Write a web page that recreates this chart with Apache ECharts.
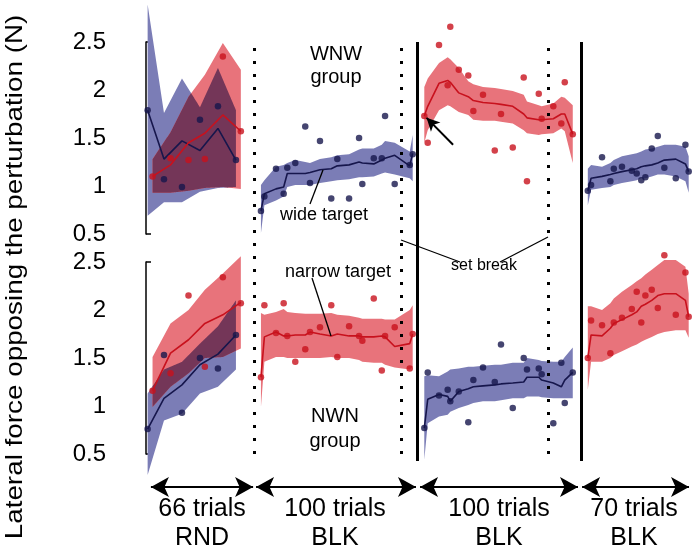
<!DOCTYPE html>
<html><head><meta charset="utf-8">
<script src="https://cdn.jsdelivr.net/npm/echarts@6/dist/echarts.min.js"></script>
<style>html,body{margin:0;padding:0;background:#fff}#c{width:696px;height:553px}</style>
</head><body><div id="c"></div>
<script>
// ---------- x positions (trial number) ----------
const xRndWide   = [1, 11, 22, 33, 44, 55];
const xRndNarrow = [4, 15, 26, 36, 47, 58];
const xBlk1 = [70.3, 72.4, 79.5, 84.2, 86.4, 91.3, 97.4, 100.3, 106.4, 113.3, 117.0, 124.2, 130.3, 132.3, 139.3, 144.2, 146.2, 152.1, 161.3, 163.1];
const xBlk2 = [170.2, 172.3, 179.2, 184.5, 186.1, 191.3, 197.1, 200.2, 206.1, 213.3, 217.1, 224.3, 231.0, 233.0, 240.2, 242.0, 249.1, 254.0, 256.1, 261.0];
const xBlk3 = [270.2, 272.2, 278.9, 284.0, 286.1, 291.1, 297.1, 300.1, 302.9, 305.4, 309.3, 313.0, 317.0, 324.0, 329.9, 331.9];

// segment boundaries (trials) and set breaks
const solidBounds = [166, 266];
const dottedLines = [66, 156, 246];
const segArrows = [[3, 65.5], [67.3, 165.1], [167.6, 264.2], [266.7, 332.1]];
const segLabels = ['66 trials\nRND', '100 trials\nBLK', '100 trials\nBLK', '70 trials\nBLK'];
const yTicks = [0.5, 2.5];

// ---------- TOP panel (WNW group) ----------
const topRndWideMean = [1.79, 1.28, 1.47, 1.37, 1.60, 1.27];
const topRndWideDots = [1.79, 1.07, 0.99, 1.69, 1.83, 1.27];
const topRndWideUp   = [2.89, 1.76, 2.12, 1.82, 2.23, 1.79];
const topRndWideLo   = [0.69, 0.83, 0.83, 0.94, 0.98, 0.99];
const topRndNarMean  = [1.10, 1.22, 1.45, 1.55, 1.74, 1.57];
const topRndNarDots  = [1.10, 1.29, 1.27, 1.28, 2.35, 1.57];
const topRndNarUp    = [1.28, 1.56, 1.93, 2.16, 2.49, 2.21];
const topRndNarLo    = [0.93, 0.93, 0.95, 0.98, 0.99, 0.97];

const topBlk1Dots = [0.74, 0.89, 1.18, 0.92, 1.19, 1.24, 1.62, 1.03, 1.47, 0.87, 1.28, 0.87, 1.50, 1.02, 1.29, 1.29, 1.73, 1.02, 1.22, 1.33];
const topBlk1Mean = [0.74, 0.92, 0.97, 0.99, 1.13, 1.13, 1.13, 1.14, 1.17, 1.18, 1.21, 1.22, 1.25, 1.24, 1.23, 1.27, 1.29, 1.32, 1.21, 1.34];
const topBlk1Up   = [1.01, 1.06, 1.20, 1.22, 1.24, 1.27, 1.25, 1.24, 1.28, 1.30, 1.32, 1.33, 1.38, 1.39, 1.39, 1.43, 1.47, 1.45, 1.36, 1.53];
const topBlk1Lo   = [0.51, 0.80, 0.85, 0.89, 0.99, 1.01, 1.01, 1.01, 1.03, 1.05, 1.06, 1.07, 1.09, 1.09, 1.10, 1.13, 1.14, 1.12, 1.08, 1.05];

const topBlk2Dots = [1.73, 1.45, 2.47, 2.05, 2.66, 2.21, 2.15, 1.78, 1.95, 1.37, 1.75, 1.40, 2.13, 1.05, 1.96, 1.70, 1.83, 1.65, 2.08, 1.54];
const topBlk2Mean = [1.73, 1.83, 2.07, 2.10, 2.08, 1.97, 1.93, 1.89, 1.87, 1.86, 1.85, 1.83, 1.75, 1.71, 1.69, 1.69, 1.70, 1.75, 1.75, 1.54];
const topBlk2Up   = [2.03, 2.12, 2.28, 2.34, 2.32, 2.23, 2.09, 2.06, 2.03, 2.02, 2.01, 1.99, 1.95, 1.88, 1.84, 1.83, 1.86, 1.93, 1.92, 1.84];
const topBlk2Lo   = [1.45, 1.58, 1.79, 1.84, 1.83, 1.77, 1.74, 1.69, 1.68, 1.68, 1.67, 1.65, 1.58, 1.55, 1.53, 1.54, 1.55, 1.60, 1.57, 1.24];

const topBlk3Dots = [0.95, 1.01, 1.30, 1.05, 1.18, 1.20, 1.16, 1.13, 1.06, 1.09, 1.39, 1.52, 1.19, 1.08, 1.43, 1.15];
const topBlk3Mean = [0.95, 1.08, 1.10, 1.12, 1.13, 1.15, 1.17, 1.18, 1.20, 1.21, 1.22, 1.24, 1.27, 1.28, 1.23, 1.15];
const topBlk3Up   = [1.18, 1.22, 1.20, 1.24, 1.27, 1.31, 1.33, 1.34, 1.36, 1.38, 1.39, 1.41, 1.43, 1.43, 1.41, 1.31];
const topBlk3Lo   = [0.80, 0.96, 0.98, 0.99, 1.01, 1.03, 1.05, 1.06, 1.08, 1.08, 1.10, 1.12, 1.12, 1.10, 1.05, 0.93];

// ---------- BOTTOM panel (NWN group) ----------
const botRndWideDots = [0.76, 1.53, 0.93, 1.50, 1.39, 1.74];
const botRndWideMean = [0.76, 1.08, 1.22, 1.43, 1.54, 1.74];
const botRndWideUp   = [1.13, 1.38, 1.46, 1.65, 1.83, 2.10];
const botRndWideLo   = [0.28, 0.85, 0.92, 1.13, 1.20, 1.38];
const botRndNarDots  = [1.16, 1.34, 2.15, 1.41, 2.34, 2.07];
const botRndNarMean  = [1.16, 1.55, 1.69, 1.86, 1.95, 2.08];
const botRndNarUp    = [1.51, 1.86, 2.00, 2.21, 2.38, 2.56];
const botRndNarLo    = [0.99, 1.20, 1.34, 1.50, 1.51, 1.60];

const botBlk1Dots = [1.30, 2.05, 1.76, 2.07, 1.73, 1.46, 1.59, 1.77, 1.82, 2.05, 1.51, 1.83, 1.73, 1.68, 2.12, 1.37, 1.73, 1.82, 1.39, 1.75];
const botBlk1Mean = [1.30, 1.72, 1.77, 1.73, 1.73, 1.74, 1.74, 1.77, 1.75, 1.73, 1.75, 1.73, 1.73, 1.72, 1.72, 1.73, 1.72, 1.62, 1.65, 1.75];
const botBlk1Up   = [1.97, 1.95, 1.98, 2.01, 1.98, 1.97, 1.96, 1.96, 1.96, 1.97, 1.95, 1.94, 1.92, 1.91, 1.91, 1.91, 1.90, 1.90, 2.00, 2.05];
const botBlk1Lo   = [0.99, 1.46, 1.51, 1.51, 1.50, 1.50, 1.50, 1.50, 1.50, 1.51, 1.50, 1.50, 1.48, 1.46, 1.45, 1.45, 1.43, 1.40, 1.38, 1.41];

const botBlk2Dots = [0.77, 1.35, 1.11, 1.17, 1.05, 1.15, 0.83, 1.27, 1.40, 1.25, 1.64, 0.98, 1.50, 1.38, 1.39, 1.33, 0.82, 1.45, 1.03, 1.35];
const botBlk2Mean = [0.77, 1.07, 1.12, 1.10, 1.05, 1.15, 1.18, 1.20, 1.21, 1.22, 1.23, 1.24, 1.25, 1.30, 1.30, 1.27, 1.24, 1.20, 1.27, 1.35];
const botBlk2Up   = [1.31, 1.32, 1.31, 1.36, 1.38, 1.39, 1.41, 1.41, 1.42, 1.43, 1.43, 1.45, 1.45, 1.50, 1.48, 1.47, 1.46, 1.46, 1.51, 1.61];
const botBlk2Lo   = [0.44, 0.82, 0.89, 0.91, 0.94, 0.98, 1.01, 1.03, 1.05, 1.05, 1.06, 1.08, 1.08, 1.10, 1.10, 1.09, 1.08, 1.08, 1.08, 1.08];

const botBlk3Dots = [1.50, 1.89, 1.84, 1.55, 1.87, 1.92, 2.01, 2.19, 1.87, 2.15, 2.21, 2.02, 2.57, 1.95, 2.39, 1.93];
const botBlk3Mean = [1.50, 1.74, 1.73, 1.81, 1.86, 1.90, 1.95, 1.98, 2.04, 2.06, 2.10, 2.15, 2.17, 2.17, 2.10, 1.93];
const botBlk3Up   = [2.04, 2.04, 2.00, 2.07, 2.12, 2.19, 2.26, 2.30, 2.33, 2.37, 2.42, 2.47, 2.52, 2.52, 2.45, 2.17];
const botBlk3Lo   = [1.17, 1.46, 1.46, 1.50, 1.53, 1.57, 1.62, 1.64, 1.67, 1.69, 1.72, 1.75, 1.77, 1.79, 1.79, 1.71];

// ---------- styles ----------
const FONT = 'Liberation Sans, Arial, sans-serif';
const NAVY = '#16164c', NAVY_BAND = '#7b7db6';
const RED = '#c8111d', RED_BAND = '#e8737b';
const OVERLAP = '#743658';

function interp(xs, ys, x) {
  if (x <= xs[0]) return ys[0];
  for (let i = 1; i < xs.length; i++) {
    if (x <= xs[i]) { const f = (x - xs[i - 1]) / (xs[i] - xs[i - 1]); return ys[i - 1] + f * (ys[i] - ys[i - 1]); }
  }
  return ys[ys.length - 1];
}
function band(ax, xs, up, lo, color) {
  return {
    type: 'custom', xAxisIndex: ax, yAxisIndex: ax, silent: true, z: 1, clip: false,
    data: [[xs[0], up[0]]],
    renderItem: function (params, api) {
      const pts = [];
      for (let i = 0; i < xs.length; i++) pts.push(api.coord([xs[i], up[i]]));
      for (let i = xs.length - 1; i >= 0; i--) pts.push(api.coord([xs[i], lo[i]]));
      return { type: 'polygon', shape: { points: pts }, style: { fill: color } };
    }
  };
}
// darker region where the two RND bands overlap
function overlap(ax, xa, upA, loA, xb, upB, loB, color) {
  return {
    type: 'custom', xAxisIndex: ax, yAxisIndex: ax, silent: true, z: 2, clip: false,
    data: [[xa[0], upA[0]]],
    renderItem: function (params, api) {
      const x0 = Math.max(xa[0], xb[0]), x1 = Math.min(xa[xa.length - 1], xb[xb.length - 1]);
      const runs = []; let cur = null;
      for (let x = x0; x <= x1 + 1e-9; x += 0.1) {
        const top = Math.min(interp(xa, upA, x), interp(xb, upB, x));
        const bot = Math.max(interp(xa, loA, x), interp(xb, loB, x));
        if (top > bot) { if (!cur) { cur = []; runs.push(cur); } cur.push([x, top, bot]); } else cur = null;
      }
      const children = runs.map(r => ({ type: 'polygon',
        shape: { points: r.map(p => api.coord([p[0], p[1]])).concat(r.slice().reverse().map(p => api.coord([p[0], p[2]]))) },
        style: { fill: color } }));
      return { type: 'group', children: children };
    }
  };
}
function meanLine(ax, xs, ys, color) {
  return { type: 'line', xAxisIndex: ax, yAxisIndex: ax, silent: true, z: 3, clip: false,
    symbol: 'none', data: xs.map((x, i) => [x, ys[i]]), lineStyle: { color: color, width: 1.6 } };
}
function dots(ax, xs, ys, color) {
  return { type: 'scatter', xAxisIndex: ax, yAxisIndex: ax, silent: true, z: 4, clip: false,
    symbolSize: 6.5, data: xs.map((x, i) => [x, ys[i]]), itemStyle: { color: color } };
}

const series = [
  band(0, xRndWide, topRndWideUp, topRndWideLo, NAVY_BAND),
  band(0, xRndNarrow, topRndNarUp, topRndNarLo, RED_BAND),
  overlap(0, xRndWide, topRndWideUp, topRndWideLo, xRndNarrow, topRndNarUp, topRndNarLo, OVERLAP),
  band(0, xBlk1, topBlk1Up, topBlk1Lo, NAVY_BAND),
  band(0, xBlk2, topBlk2Up, topBlk2Lo, RED_BAND),
  band(0, xBlk3, topBlk3Up, topBlk3Lo, NAVY_BAND),
  band(1, xRndWide, botRndWideUp, botRndWideLo, NAVY_BAND),
  band(1, xRndNarrow, botRndNarUp, botRndNarLo, RED_BAND),
  overlap(1, xRndWide, botRndWideUp, botRndWideLo, xRndNarrow, botRndNarUp, botRndNarLo, OVERLAP),
  band(1, xBlk1, botBlk1Up, botBlk1Lo, RED_BAND),
  band(1, xBlk2, botBlk2Up, botBlk2Lo, NAVY_BAND),
  band(1, xBlk3, botBlk3Up, botBlk3Lo, RED_BAND),
  meanLine(0, xRndWide, topRndWideMean, NAVY),
  meanLine(0, xRndNarrow, topRndNarMean, RED),
  meanLine(0, xBlk1, topBlk1Mean, NAVY),
  meanLine(0, xBlk2, topBlk2Mean, RED),
  meanLine(0, xBlk3, topBlk3Mean, NAVY),
  meanLine(1, xRndWide, botRndWideMean, NAVY),
  meanLine(1, xRndNarrow, botRndNarMean, RED),
  meanLine(1, xBlk1, botBlk1Mean, RED),
  meanLine(1, xBlk2, botBlk2Mean, NAVY),
  meanLine(1, xBlk3, botBlk3Mean, RED),
  dots(0, xRndWide, topRndWideDots, NAVY),
  dots(0, xRndNarrow, topRndNarDots, RED),
  dots(0, xBlk1, topBlk1Dots, NAVY),
  dots(0, xBlk2, topBlk2Dots, RED),
  dots(0, xBlk3, topBlk3Dots, NAVY),
  dots(1, xRndWide, botRndWideDots, NAVY),
  dots(1, xRndNarrow, botRndNarDots, RED),
  dots(1, xBlk1, botBlk1Dots, RED),
  dots(1, xBlk2, botBlk2Dots, NAVY),
  dots(1, xBlk3, botBlk3Dots, RED),
  // vertical separators (overlay grid, y = pixel offset below its top)
  { type: 'line', xAxisIndex: 2, yAxisIndex: 2, data: [], silent: true, z: 5,
    markLine: { silent: true, animation: false, symbol: 'none', label: { show: false },
      data: solidBounds.map(t => [{ coord: [t, 0], lineStyle: { color: '#000', width: 3, type: 'solid' } }, { coord: [t, 419] }])
        .concat(dottedLines.map(t => [{ coord: [t, 6], lineStyle: { color: '#000', width: 3, type: [3, 10], cap: 'butt' } }, { coord: [t, 419] }]))
    } },
  // segment double arrows
  { type: 'line', xAxisIndex: 2, yAxisIndex: 2, data: [], silent: true, z: 5,
    markLine: { silent: true, animation: false, symbol: ['arrow', 'arrow'], symbolSize: [15, 18], label: { show: false },
      lineStyle: { color: '#000', width: 2, type: 'solid' },
      data: segArrows.map(a => [{ coord: [a[0], 445] }, { coord: [a[1], 445] }])
    } },
  // pointer arrows to first block point
  { type: 'line', xAxisIndex: 0, yAxisIndex: 0, data: [], silent: true, z: 6,
    markLine: { silent: true, animation: false, symbol: ['none', 'arrow'], symbolSize: [10, 13], label: { show: false },
      lineStyle: { color: '#000', width: 2, type: 'solid' },
      data: [[{ coord: [187.8, 1.43] }, { coord: [171.6, 1.71] }]] } },
  { type: 'line', xAxisIndex: 1, yAxisIndex: 1, data: [], silent: true, z: 6,
    markLine: { silent: true, animation: false, symbol: ['none', 'arrow'], symbolSize: [10, 13], label: { show: false },
      lineStyle: { color: '#000', width: 2, type: 'solid' },
      data: [[{ coord: [187.8, 0.375] }, { coord: [171.8, 0.73] }]] } }
];

const yAxisCommon = {
  type: 'value', min: 0.5, max: 2.5, interval: 0.5, offset: 31,
  axisLine: { show: true, lineStyle: { color: '#000', width: 1.5 } },
  axisTick: { show: true, inside: true, length: 5, customValues: yTicks, lineStyle: { color: '#000', width: 1.5 } },
  axisLabel: { fontSize: 24, fontFamily: FONT, color: '#000', margin: 9 },
  splitLine: { show: false }
};
const xAxisCommon = { type: 'value', min: 0, max: 336, show: false };

const txt = (x, y, text, size, extra) => ({ type: 'text', x: x, y: y, silent: true, z: 50,
  style: Object.assign({ text: text, fontSize: size, fontFamily: FONT, fill: '#000', align: 'center', verticalAlign: 'middle' }, extra || {}) });
const seg = (x1, y1, x2, y2) => ({ type: 'line', silent: true, z: 50, shape: { x1, y1, x2, y2 }, style: { stroke: '#000', lineWidth: 1.3 } });

const yTitle = txt(15, 277, 'Lateral force opposing the perturbation (N)', 24, {});
yTitle.rotation = Math.PI / 2;
yTitle.scaleX = 1.16;

const chart = echarts.init(document.getElementById('c'), null, { renderer: 'canvas' });
chart.setOption({
  backgroundColor: '#fff',
  animation: false,
  grid: [
    { left: 146, top: 42, width: 549.4, height: 192, outerBoundsMode: 'none' },
    { left: 146, top: 262, width: 549.4, height: 192, outerBoundsMode: 'none' },
    { left: 146, top: 42, width: 549.4, height: 458, outerBoundsMode: 'none' }
  ],
  xAxis: [Object.assign({ gridIndex: 0 }, xAxisCommon), Object.assign({ gridIndex: 1 }, xAxisCommon), Object.assign({ gridIndex: 2 }, xAxisCommon)],
  yAxis: [Object.assign({ gridIndex: 0 }, yAxisCommon), Object.assign({ gridIndex: 1 }, yAxisCommon),
    { gridIndex: 2, type: 'value', min: 0, max: 458, inverse: true, show: false }],
  series: series,
  graphic: [
    yTitle,
    txt(336, 66, 'WNW\ngroup', 20, { lineHeight: 23 }),
    txt(335, 429, 'NWN\ngroup', 20, { lineHeight: 25 }),
    txt(324, 215, 'wide target', 18),
    txt(338, 272, 'narrow target', 18),
    txt(484, 266, 'set break', 16),
    seg(310, 204, 323, 170),
    seg(312, 278, 331, 336),
    seg(401, 240, 460, 262),
    seg(500, 262, 548, 237)
  ].concat(segLabels.map((s, i) => txt([202, 335, 499, 634][i], 524, s, 25, { lineHeight: 29 })))
});
</script></body></html>
